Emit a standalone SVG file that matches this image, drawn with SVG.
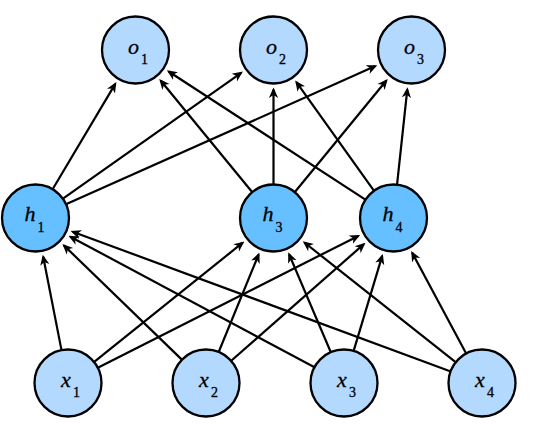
<svg xmlns="http://www.w3.org/2000/svg" width="546" height="436" viewBox="0 0 546 436">
<defs>
<marker id="arr" viewBox="0 0 10 10" refX="8" refY="5" markerWidth="10.5" markerHeight="10.5" markerUnits="userSpaceOnUse" orient="auto">
<path d="M0,0.6 L10,5 L0,9.4 L2.8,5 z" fill="#000"/>
</marker>
<style>
.n circle{stroke:#000;stroke-width:2.3}
.light circle{fill:#b3d9ff}
.dark circle{fill:#66bfff}
#edges line{stroke:#000;stroke-width:2.2;marker-end:url(#arr)}
</style>
</defs>
<rect width="546" height="436" fill="#fff"/>
<g id="edges">
<line x1="52.9" y1="188.8" x2="115.3" y2="83.9"/>
<line x1="63.3" y1="198.4" x2="241.2" y2="72.8"/>
<line x1="66.5" y1="204.1" x2="375.4" y2="66.1"/>
<line x1="251.9" y1="191.7" x2="160.6" y2="80.5"/>
<line x1="273.5" y1="184" x2="273.5" y2="89.5"/>
<line x1="295.1" y1="191.7" x2="386.4" y2="80.5"/>
<line x1="365.0" y1="199.4" x2="168.6" y2="71.5"/>
<line x1="373.7" y1="190.3" x2="296.4" y2="82.2"/>
<line x1="397.1" y1="184.2" x2="407.3" y2="89.3"/>
<line x1="61.4" y1="349.6" x2="43.2" y2="256.7"/>
<line x1="94.5" y1="361.7" x2="242.7" y2="242.7"/>
<line x1="98.3" y1="367.6" x2="358.3" y2="235.9"/>
<line x1="181.6" y1="359.4" x2="63.9" y2="245.4"/>
<line x1="218.9" y1="351.5" x2="258.6" y2="254.5"/>
<line x1="231.5" y1="360.5" x2="363.9" y2="244.1"/>
<line x1="314.0" y1="367.0" x2="70.3" y2="236.7"/>
<line x1="330.6" y1="351.7" x2="289.1" y2="254.3"/>
<line x1="353.8" y1="350.4" x2="382.2" y2="255.9"/>
<line x1="450.1" y1="371.2" x2="72.6" y2="231.7"/>
<line x1="455.3" y1="361.9" x2="304.4" y2="242.5"/>
<line x1="465.9" y1="353.0" x2="412.2" y2="252.8"/>
</g>
<g font-family="'Liberation Serif', 'Times New Roman', serif" font-size="22" text-anchor="middle" fill="#000" stroke="#000" stroke-width="0.3">
<g id="o1" class="n light"><circle cx="135.5" cy="50" r="33.5"/><text x="138" y="54" font-style="italic">o<tspan dx="2" dy="10" font-style="normal" font-size="14">1</tspan></text></g>
<g id="o2" class="n light"><circle cx="273.5" cy="50" r="33.5"/><text x="276" y="54" font-style="italic">o<tspan dx="2" dy="10" font-style="normal" font-size="14">2</tspan></text></g>
<g id="o3" class="n light"><circle cx="411.5" cy="50" r="33.5"/><text x="414" y="54" font-style="italic">o<tspan dx="2" dy="10" font-style="normal" font-size="14">3</tspan></text></g>
<g id="h1" class="n dark"><circle cx="35.5" cy="218" r="33.5"/><text x="34.5" y="221" font-style="italic">h<tspan dx="2" dy="11" font-style="normal" font-size="14">1</tspan></text></g>
<g id="h3" class="n dark"><circle cx="273.5" cy="218" r="33.5"/><text x="272.5" y="221" font-style="italic">h<tspan dx="2" dy="11" font-style="normal" font-size="14">3</tspan></text></g>
<g id="h4" class="n dark"><circle cx="393.5" cy="218" r="33.5"/><text x="392.5" y="221" font-style="italic">h<tspan dx="2" dy="11" font-style="normal" font-size="14">4</tspan></text></g>
<g id="x1" class="n light"><circle cx="68" cy="383" r="33.5"/><text x="70.5" y="387" font-style="italic">x<tspan dx="2" dy="10" font-style="normal" font-size="14">1</tspan></text></g>
<g id="x2" class="n light"><circle cx="206" cy="383" r="33.5"/><text x="208.5" y="387" font-style="italic">x<tspan dx="2" dy="10" font-style="normal" font-size="14">2</tspan></text></g>
<g id="x3" class="n light"><circle cx="344" cy="383" r="33.5"/><text x="346.5" y="387" font-style="italic">x<tspan dx="2" dy="10" font-style="normal" font-size="14">3</tspan></text></g>
<g id="x4" class="n light"><circle cx="482" cy="383" r="33.5"/><text x="484.5" y="387" font-style="italic">x<tspan dx="2" dy="10" font-style="normal" font-size="14">4</tspan></text></g>
</g>
</svg>
